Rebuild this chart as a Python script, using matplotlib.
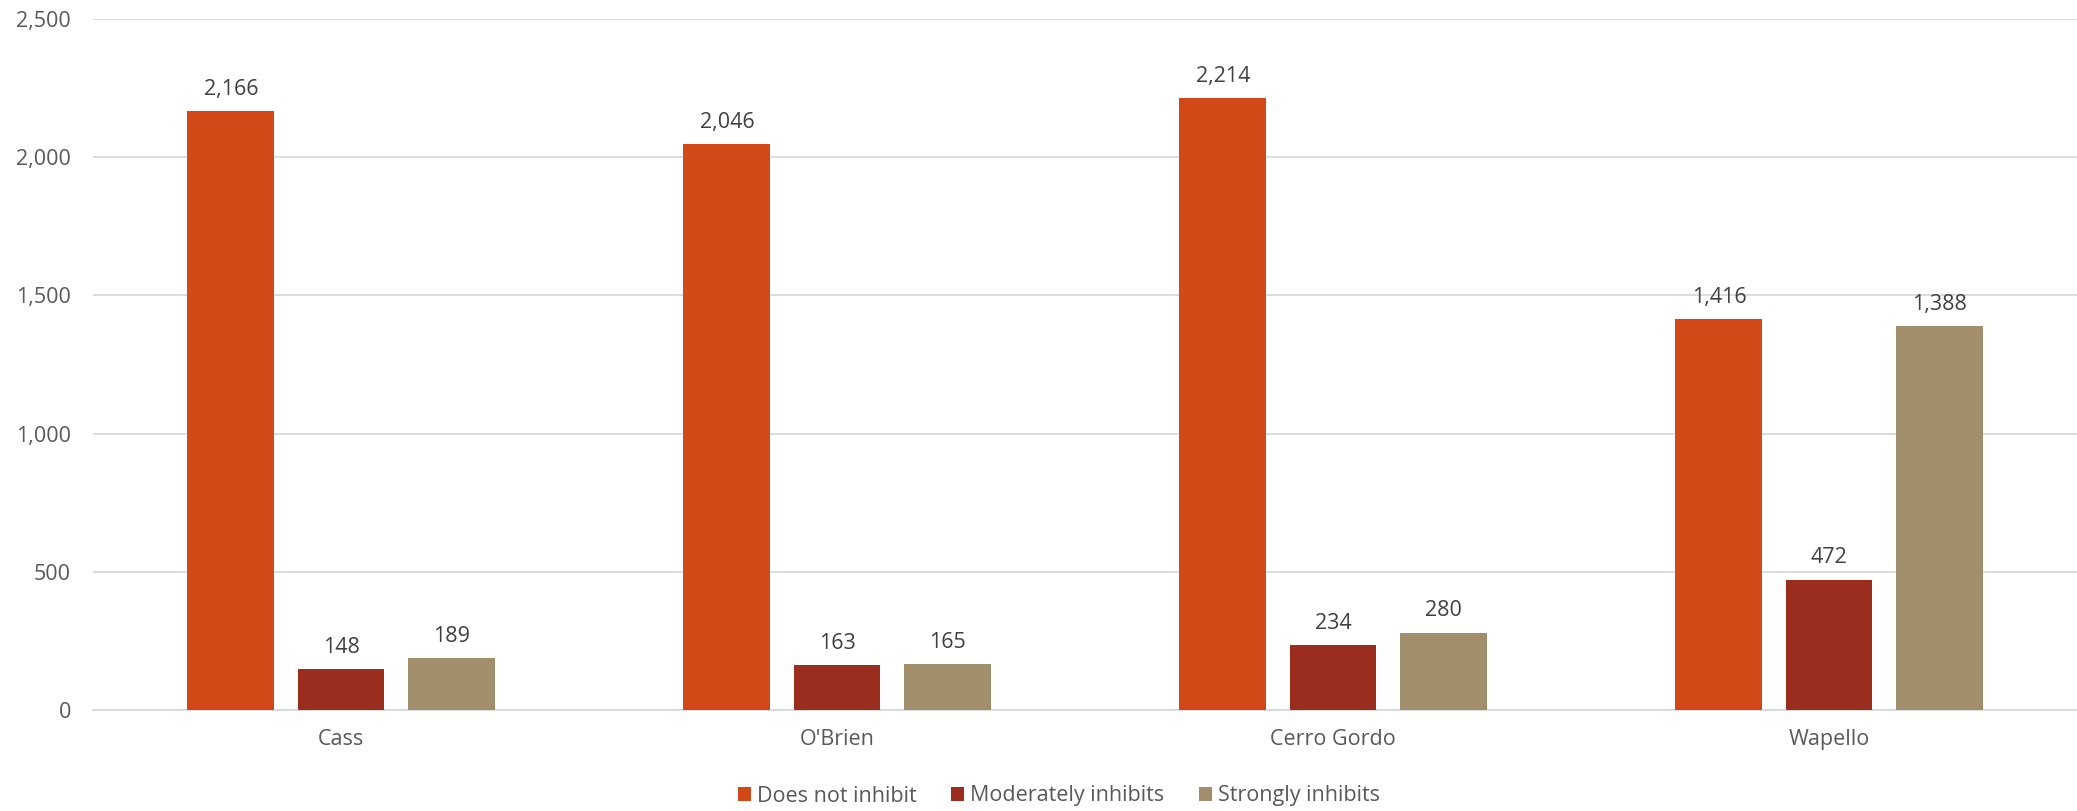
import matplotlib
matplotlib.use('Agg')
from matplotlib import pyplot, ticker
import numpy

counties = ['Cass', "O'Brien", 'Cerro Gordo', 'Wapello']
series_names = ['Does not inhibit', 'Moderately inhibits', 'Strongly inhibits']
does_not_inhibit = [2166, 2046, 2214, 1416]
moderately_inhibits = [148, 163, 234, 472]
strongly_inhibits = [189, 165, 280, 1388]

colors = ['#D34817', '#9B2D1F', '#A28E6A']

pyplot.rcParams['font.family'] = ['Open Sans', 'DejaVu Sans']
fs = 15.5

fig = pyplot.figure(figsize=(20.77, 8.11), dpi=100)
ax = fig.add_axes([93 / 2077, 1 - 710 / 811, 1 - 93 / 2077, (710 - 19) / 811])

x = numpy.arange(len(counties))
width = 0.175
step = 0.222

for idx, (name, vals) in enumerate(zip(series_names,
                                        [does_not_inhibit, moderately_inhibits, strongly_inhibits])):
    pos = x + (idx - 1) * step
    bars = ax.bar(pos, vals, width, color=colors[idx], label=name, zorder=3)
    for xp, v in zip(pos, vals):
        ax.annotate(f'{v:,}', (xp, v), xytext=(0, 8), textcoords='offset points',
                    ha='center', va='bottom', fontsize=fs, color='#404040')

ax.set_xlim(-0.5, len(counties) - 0.5)
ax.set_ylim(0, 2500)
ax.yaxis.set_major_locator(ticker.MultipleLocator(500))
ax.yaxis.set_major_formatter(ticker.FuncFormatter(lambda v, p: f'{int(v):,}'))
ax.set_xticks(x)
ax.set_xticklabels(counties)

ax.grid(axis='y', color='#D9D9D9', linewidth=1.3, zorder=0)
for s in ['top', 'right', 'left']:
    ax.spines[s].set_visible(False)
ax.spines['bottom'].set_color('#D9D9D9')
ax.spines['bottom'].set_linewidth(1.3)
ax.tick_params(axis='both', length=0, labelsize=fs, colors='#595959')
ax.tick_params(axis='y', pad=16)
ax.tick_params(axis='x', pad=14)

fig.legend(loc='center', bbox_to_anchor=(1059 / 2077, 1 - 796 / 811), ncol=3,
           frameon=False, fontsize=fs, labelcolor='#595959',
           handlelength=0.6, handleheight=0.6, handletextpad=0.3, columnspacing=1.6)

pyplot.savefig('out.png', dpi=100)
